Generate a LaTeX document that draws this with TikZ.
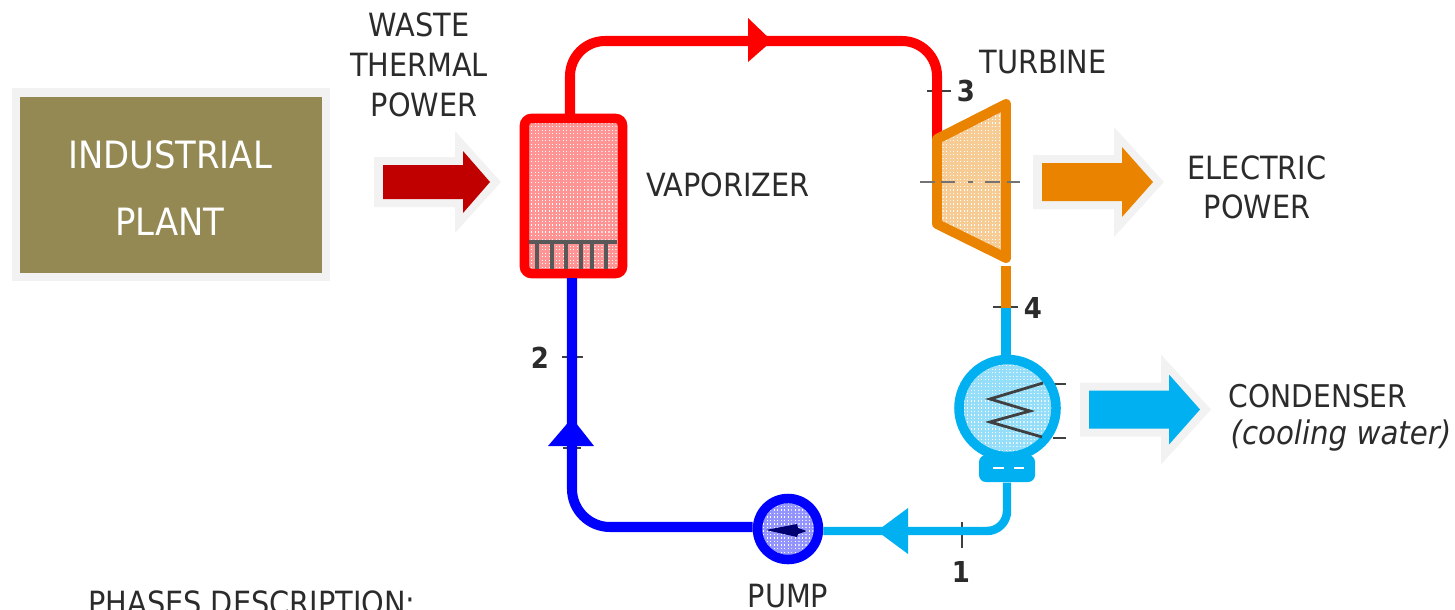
\documentclass[tikz,border=0pt]{standalone}
\usepackage{fontspec}
\setmainfont{DejaVu Sans Condensed}
\usetikzlibrary{patterns,calc}
\definecolor{plantcol}{HTML}{948853}
\definecolor{halocol}{HTML}{F2F2F2}
\definecolor{darkred}{HTML}{C00000}
\definecolor{orangecol}{HTML}{E98300}
\definecolor{cyancol}{HTML}{00B0F0}
\definecolor{labelcol}{HTML}{2B2B2B}
\pgfdeclarepatternformonly{finedots}{\pgfqpoint{0pt}{0pt}}{\pgfqpoint{0.35pt}{0.35pt}}{\pgfqpoint{1.0pt}{1.0pt}}{
    \pgfpathrectangle{\pgfpointorigin}{\pgfqpoint{0.35pt}{0.35pt}}
    \pgfusepath{fill}
}
\tikzset{
    lab/.style={font=\fontsize{9.1}{10}\selectfont,text=labelcol,inner sep=0pt},
    numlab/.style={font=\fontsize{8.2}{10}\selectfont\bfseries,text=labelcol,inner sep=0pt},
    tick/.style={draw=black!75,line width=0.8pt},
    pipe/.style={line width=2.85pt,rounded corners=0.35cm},
    dotted fill/.style={preaction={fill=#1!42},preaction={pattern=finedots,pattern color=white}},
}
\begin{document}
\begin{tikzpicture}[x=0.01cm,y=-0.01cm]
    \useasboundingbox (0,0) rectangle (1455,609);
    \clip (0,0) rectangle (1455,609);

    % plant
    \fill[halocol] (12,88) rectangle (330,281);
    \node[fill=plantcol,minimum width=3.02cm,minimum height=1.76cm,inner sep=0pt] (plant) at (171,185) {};
    \node[lab,text=white,font=\fontsize{10.7}{10}\selectfont] (plantone) at (170,155) {INDUSTRIAL};
    \node[lab,text=white,font=\fontsize{10.7}{10}\selectfont] (planttwo) at (170,222) {PLANT};

    % side arrows
    \foreach \xs/\ys/\bh/\hh/\tip/\col in {383/182/17/31/107/darkred,1042/182/19/35/111/orangecol,1089/409.5/19/35/111/cyancol}{
        \fill[halocol] (\xs-9,\ys-\bh-8) -- (\xs+72,\ys-\bh-8) -- (\xs+72,\ys-\hh-20) -- (\xs+\tip+11,\ys)
            -- (\xs+72,\ys+\hh+20) -- (\xs+72,\ys+\bh+8) -- (\xs-9,\ys+\bh+8) -- cycle;
        \fill[\col] (\xs,\ys-\bh) -- (\xs+80,\ys-\bh) -- (\xs+80,\ys-\hh) -- (\xs+\tip,\ys)
            -- (\xs+80,\ys+\hh) -- (\xs+80,\ys+\bh) -- (\xs,\ys+\bh) -- cycle;
    }

    % pipes without nodes
    \coordinate (vapin) at (572,278);
    \coordinate (vapout) at (570,118);
    \coordinate (turbin) at (937,140);
    \coordinate (turbout) at (1006,266);
    \coordinate (statefour) at (1006,308);

    \draw[tick] (927,91) -- (951,91);
    \draw[pipe,red] (vapout) |- (700,41) -- (937,41) -- (turbin);
    \fill[red] (772,41) -- (748,18) -- (748,62) -- cycle;
    \draw[tick] (993,307) -- (1018,307);
    \draw[orangecol,line width=2.85pt] (turbout) -- (statefour);

    % components
    \node[draw=red,line width=2.7pt,rounded corners=2pt,dotted fill=red,minimum width=0.98cm,minimum height=1.55cm,inner sep=0pt] (vaporizer) at (573.5,196) {};
    \draw[black!65,line width=1pt] (529,242) -- (617,242);
    \foreach \xt in {537,552,566,581,592,606}{
        \draw[black!65,line width=1pt] (\xt,242) -- (\xt,269);
    }

    \coordinate (turbtl) at (937,139);
    \coordinate (turbtr) at (1006,104);
    \coordinate (turbbr) at (1006,258);
    \coordinate (turbbl) at (937,224);
    \draw[draw=orangecol,line width=2.8pt,line join=round,dotted fill=orangecol] (turbtl) -- (turbtr) -- (turbbr) -- (turbbl) -- cycle;
    \draw[black!55,line width=0.7pt,dash pattern=on 4.3pt off 1.7pt on 4pt off 3.7pt on 1.4pt off 3.4pt on 4.3pt off 2pt on 3.7pt off 5pt] (920,182) -- (1020,182);

    \draw[tick] (1053,384) -- (1066,384);
    \draw[tick] (1053,438) -- (1066,438);
    \node[circle,draw=cyancol,line width=2.7pt,dotted fill=cyancol,minimum size=0.97cm,inner sep=0pt] (condenser) at (1007.5,408) {};
    \draw[black!75,line width=0.8pt] (1043,383) -- (990,399) -- (1030,411) -- (990,422) -- (1042,437);
    \node[fill=cyancol,rounded corners=2pt,minimum width=0.56cm,minimum height=0.27cm,inner sep=0pt] (hotwell) at (1007,468.5) {};
    \draw[white,line width=0.5pt,dash pattern=on 3pt off 3pt] (993,468) -- (1024,468);

    \node[circle,draw=blue,line width=2.7pt,dotted fill=blue,minimum size=0.61cm,inner sep=0pt] (pump) at (788,529) {};
    \fill[blue!45!black] (766,530) -- (797,524) -- (798,528) -- (807,531) -- (798,534) -- (797,537) -- cycle;

    % pipes
    \draw[cyancol,line width=2.85pt] (statefour) -- (statefour |- condenser.north);
    \draw[tick] (962,522) -- (962,548);
    \draw[pipe,cyancol,rounded corners=0.2cm,line width=2.4pt] (hotwell.south) |- ([yshift=-0.02cm]pump.east);
    \fill[cyancol] (877,531) -- (908,508) -- (908,554) -- cycle;
    \draw[tick] (562,357) -- (583,357);
    \draw[tick] (563,448) -- (581,448);
    \draw[pipe,blue,rounded corners=0.38cm] ([yshift=0.02cm]pump.west) -| (vapin);
    \fill[blue] (572,418) -- (548,446) -- (594,446) -- cycle;

    % state points
    \node[numlab] (statethree) at (966,91) {3};
    \node[numlab] (statefourlab) at (1033,308) {4};
    \node[numlab] (stateone) at (961,572) {1};
    \node[numlab] (statetwo) at (540,358) {2};

    % labels
    \node[lab] (wasteone) at (419,25) {WASTE};
    \node[lab] (wastetwo) at (419,65) {THERMAL};
    \node[lab] (wastethree) at (424,105) {POWER};
    \node[lab] (vaplab) at (728,185) {VAPORIZER};
    \node[lab] (turblab) at (1043,62) {TURBINE};
    \node[lab] (elecone) at (1257,168) {ELECTRIC};
    \node[lab] (electwo) at (1257,207) {POWER};
    \node[lab,font=\fontsize{8.9}{10}\selectfont] (condlab) at (1318,396) {CONDENSER};
    \node[lab,font=\fontsize{9.25}{10}\selectfont\itshape] (coolab) at (1341,436) {(cooling water)};
    \node[lab,anchor=base] (pumplab) at (788,607) {PUMP};
    \node[lab] (phaselab) at (252,603) {PHASES DESCRIPTION:};
\end{tikzpicture}
\end{document}
